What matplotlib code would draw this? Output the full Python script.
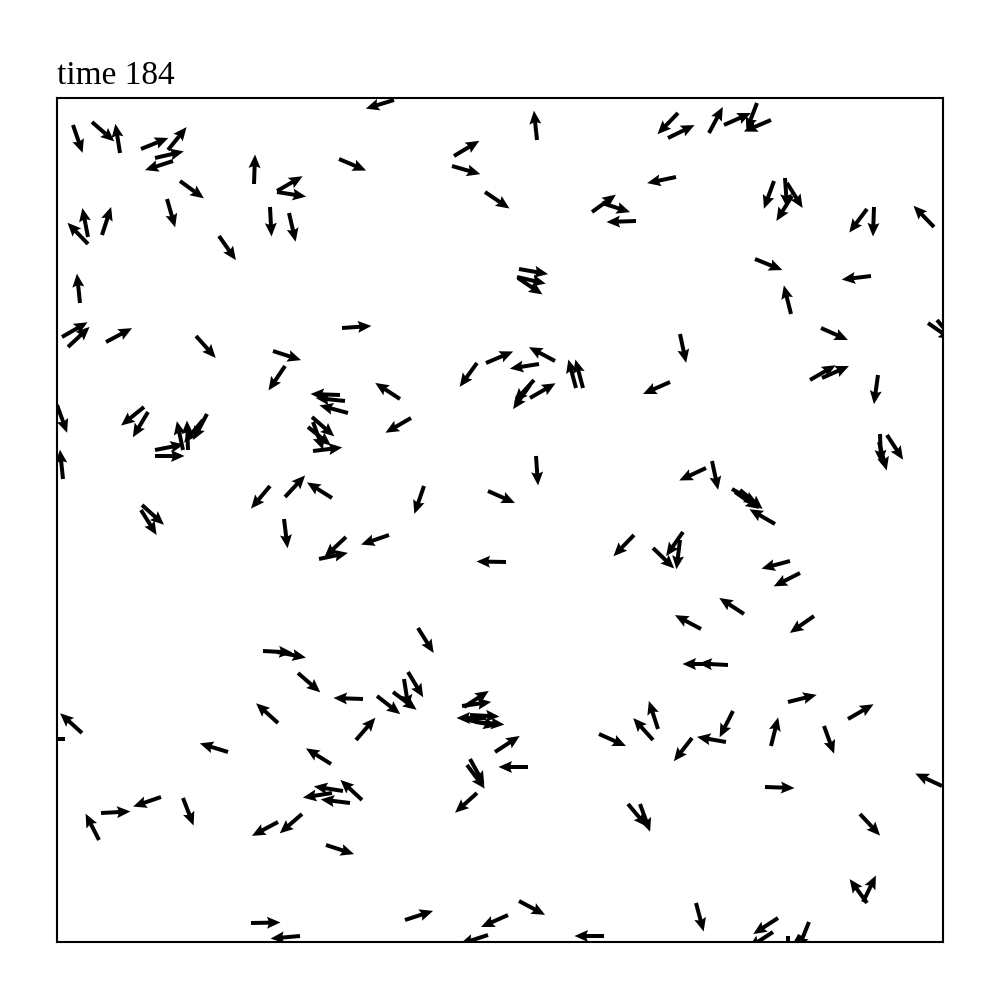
import numpy as np
import matplotlib
matplotlib.use("Agg")
from matplotlib import pyplot as plt

# box size (x, y) and particle step length
BOX_W = 886
BOX_H = 844
STEP = 29.5
TIME = 184

# particle positions and headings (degrees)
x = [16, 35, 63, 84, 111, 98, 116, 197, 220, 220, 123, 110, 213, 232, 162, 31, 31, 45, 23, 5,
     11, 49, 139, 216, 228,
     337, 480, 282, 397, 395, 428, 535, 545, 579, 462, 460, 461, 285, 420, 429, 482, 498, 519, 526,
     621, 611, 652, 667, 700, 714, 619, 717, 728, 730, 735, 810, 817, 877, 698, 814, 734, 764, 871,
     880, 623, 753, 765, 821,
     288, 291, 283, 0, 6, 87, 91, 98, 98, 126, 131, 150, 146, 255, 251, 256, 256, 213, 228, 275,
     85, 84, 227, 289, 262, 206, 220,
     343, 354, 477, 473, 473, 479, 431, 367, 332, 449, 577, 361,
     613, 823, 822, 830, 649, 655, 675, 678, 683, 718, 626, 596, 623, 733, 743, 687, 644, 757, 671, 655,
     241, 306, 221, 25, 8, 171, 274, 286, 305, 275, 293, 245, 221, 104, 44, 42, 126, 269, 194, 243,
     351, 347, 336, 320, 299, 407, 405, 429, 413, 418, 411, 438, 471, 413, 410, 420, 542, 596, 601,
     571, 583, 348, 451, 462, 431, 547,
     676, 669, 635, 714, 731, 791, 767, 885, 708, 803, 810, 806, 639, 721, 716, 752, 743, 731]
y = [817, 820, 789, 793, 792, 784, 781, 758, 751, 750, 761, 743, 735, 729, 706, 698, 705, 707, 639, 605,
     595, 600, 606, 591, 576,
     842, 802, 783, 786, 776, 750, 730, 739, 721, 673, 665, 664, 614, 579, 579, 578, 581, 554, 554,
     829, 804, 809, 817, 839, 822, 765, 761, 764, 759, 746, 733, 735, 715, 683, 666, 628, 614, 619,
     622, 608, 562, 564, 567,
     541, 529, 547, 537, 463, 535, 530, 492, 486, 492, 492, 528, 522, 525, 515, 520, 491, 456, 445, 444,
     437, 432, 423, 405, 383, 291, 290,
     543, 524, 562, 544, 557, 486, 451, 456, 407, 380, 407, 314,
     560, 508, 500, 507, 474, 481, 453, 450, 452, 418, 410, 394, 402, 381, 369, 328, 313, 326, 277, 278,
     269, 243, 219, 209, 203, 190, 178, 151, 142, 149, 139, 128, 120, 145, 129, 102, 144, 97, 19, 6,
     270, 263, 250, 246, 202, 235, 236, 224, 227, 220, 222, 190, 175, 183, 177, 149, 208, 202, 213,
     138, 138, 22, 27, 41, 7, 6,
     231, 200, 204, 196, 240, 223, 216, 156, 155, 128, 39, 40, 39, 24, 10, 20, 7, 6]
theta = [-71, -41, 99, 22, 51, 13, -162, 88, 30, -9, -36, -74, -87, -77, -55, 134, 101, 72, 96, 30,
         43, 28, -48, -18, -124,
         -163, 96, -23, 31, -16, -34, 36, -18, -178, -10, -13, -34, 4, -126, 23, -171, 152, 105, 105,
         -134, 26, 62, 24, -111, -157, -168, -110, -86, -58, -122, -127, -92, 134, -22, -173, 104, -24, -35,
         -50, -78, 30, 24, -98,
         174, 165, 178, -70, 96, -141, -121, 11, 0, 102, 92, -118, -130, -41, -39, -70, 7, -130, 47, 148,
         -42, -58, -83, -137, 12, -3, -11,
         147, -150, -132, 30, -125, -86, -24, -109, -161, 179, -134, -58,
         -156, -88, -75, -57, -155, -78, -30, -35, -40, 150, -125, -44, -97, -165, -153, 147, 152, -145, 177, 180,
         -41, 178, 138, 138, 180, 163, 148, 171, 137, -171, 173, -139, -152, -161, 3, 117, -69, -18, 1, -175,
         -59, -81, -37, -38, 49, 33, 8, 180, -3, -5, -12, 33, 180, -61, -53, -138, -24, 132, 108,
         -50, -70, 18, -156, -28, -162, 180,
         -117, 170, -128, 76, 14, 30, -70, 155, -2, -47, 126, 64, -75, -147, -147, -112, -120, -90]

x = np.array(x, dtype=float)
y = np.array(y, dtype=float)
th = np.deg2rad(theta)
u = STEP * np.cos(th)
v = STEP * np.sin(th)

fig = plt.figure(figsize=(10, 10), dpi=100)
ax = fig.add_axes([0.057, 0.058, 0.886, 0.844])
ax.quiver(x, y, u, v, angles='xy', scale_units='xy', scale=1, pivot='tail',
          color='black', width=0.0045, headwidth=3.0, headlength=3.4, headaxislength=3.0)
ax.set_xlim(0, BOX_W)
ax.set_ylim(0, BOX_H)
ax.set_xticks([])
ax.set_yticks([])
for s in ax.spines.values():
    s.set_linewidth(1.5)
ax.set_title('time %d' % TIME, loc='left', fontfamily='Liberation Serif', fontsize=24, pad=10)

fig.savefig('out.png', dpi=100)
